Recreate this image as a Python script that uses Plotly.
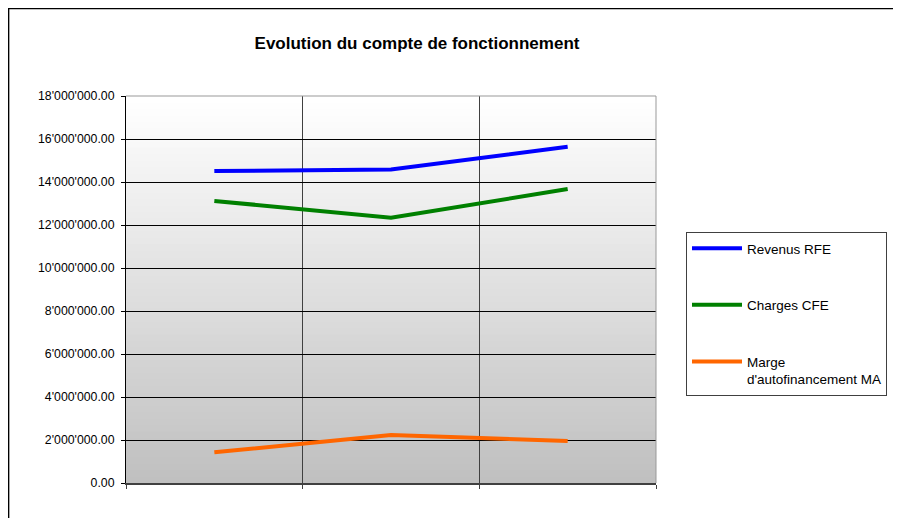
import plotly.graph_objects as go

categories = ["Année 1", "Année 2", "Année 3"]
revenus_rfe = [14510000, 14580000, 15640000]
charges_cfe = [13120000, 12340000, 13670000]
marge_ma = [1430000, 2230000, 1950000]

series = [
    ("Revenus RFE", revenus_rfe, "#0000ff"),
    ("Charges CFE", charges_cfe, "#008000"),
    ("Marge<br>d'autofinancement MA", marge_ma, "#ff6600"),
]

OFF = 8  # page body margin
W, H = 901 - OFF, 518 - OFF
L, T = 126 - OFF, 96 - OFF
pw, ph = 530, 387
R, B = W - L - pw, H - T - ph

fig = go.Figure()
for i, (name, vals, col) in enumerate(series):
    fig.add_trace(go.Scatter(
        x=categories, y=vals, name=name, mode="lines",
        line=dict(color=col, width=4), legendgroup=str(i),
    ))

def px(xw):
    return (xw - OFF - L) / pw
def py(yw):
    return (T + ph - (yw - OFF)) / ph

shapes = []
n = 60
for k in range(n):
    t = k / (n - 1)
    c = int(round(255 - (255 - 192) * (1 - t)))
    shapes.append(dict(type="rect", xref="x domain", yref="y domain",
                       x0=0, x1=1, y0=k / n, y1=(k + 1) / n + 0.002,
                       fillcolor=f"rgb({c},{c},{c})", line=dict(width=0),
                       layer="below"))
shapes.append(dict(type="line", xref="x domain", yref="y domain",
                   x0=0, x1=1, y0=1, y1=1, line=dict(color="#999999", width=1), layer="above"))
shapes.append(dict(type="line", xref="x domain", yref="y domain",
                   x0=1, x1=1, y0=0, y1=1, line=dict(color="#999999", width=1), layer="above"))
shapes.append(dict(type="rect", xref="paper", yref="paper",
                   x0=px(8.6), x1=px(915), y0=py(8.6), y1=py(540),
                   line=dict(color="#000000", width=1.5), fillcolor="rgba(0,0,0,0)"))

fig.update_layout(
    width=W, height=H,
    margin=dict(l=L, r=R, t=T, b=B, autoexpand=False),
    paper_bgcolor="#ffffff", plot_bgcolor="#ffffff",
    font=dict(family="Arial, Liberation Sans, sans-serif", size=12, color="#000000"),
    separators=".'",
    title=dict(text="<b>Evolution du compte de fonctionnement</b>",
               x=(417 - OFF) / W, xanchor="center", y=1 - (43 - OFF) / H, yanchor="middle",
               font=dict(size=17)),
    showlegend=True,
    legend=dict(x=px(686), y=py(232), xanchor="left", yanchor="top",
                bordercolor="#404040", borderwidth=1, bgcolor="#ffffff",
                tracegroupgap=36, itemwidth=50, valign="top",
                font=dict(size=13.5)),
    shapes=shapes,
)
fig.update_xaxes(type="category", range=[-0.5, 2.5], tickson="boundaries",
                 showgrid=True, gridcolor="#404040", gridwidth=1,
                 showticklabels=False, ticks="outside", ticklen=4, tickcolor="#404040",
                 showline=True, linecolor="#404040", linewidth=2, zeroline=False)
fig.update_yaxes(range=[0, 18000000], dtick=2000000, tickformat=",.2f",
                 showgrid=True, gridcolor="#000000", gridwidth=1,
                 ticks="outside", ticklen=4, tickcolor="#000000",
                 showline=True, linecolor="#000000", linewidth=1, zeroline=False,
                 ticklabelstandoff=4, tickfont=dict(size=12.3))

fig.write_html("out.html")
